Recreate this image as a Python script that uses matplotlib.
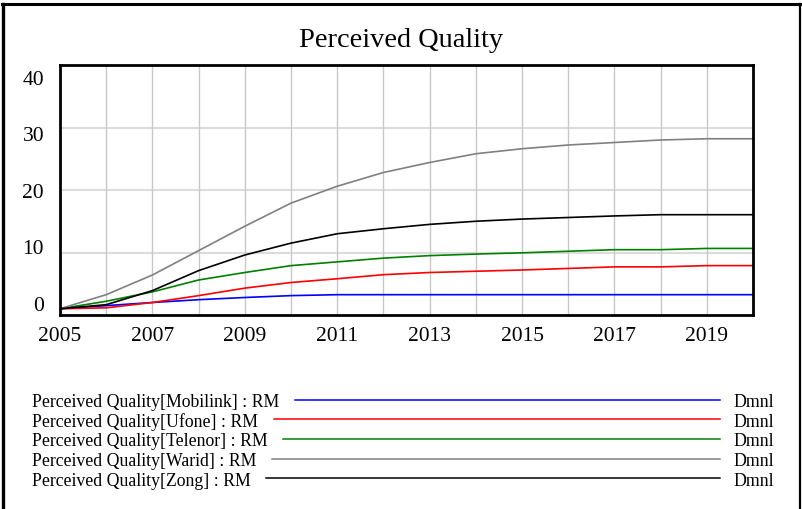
import matplotlib
matplotlib.use("Agg")
import matplotlib.pyplot as plt
from matplotlib.lines import Line2D

plt.rcParams['font.family'] = ['Liberation Serif', 'DejaVu Serif']

years = list(range(2005, 2021))
mobilink = [1.0, 1.5, 2.0, 2.45, 2.8, 3.1, 3.25, 3.25, 3.25, 3.25, 3.25, 3.25, 3.25, 3.25, 3.25, 3.25]
ufone = [1.0, 1.15, 2.0, 3.1, 4.3, 5.2, 5.8, 6.45, 6.8, 7.0, 7.2, 7.45, 7.7, 7.7, 7.9, 7.9]
telenor = [1.0, 2.2, 3.7, 5.6, 6.8, 7.9, 8.5, 9.1, 9.5, 9.75, 9.95, 10.2, 10.45, 10.45, 10.65, 10.65]
warid = [1.0, 3.25, 6.4, 10.3, 14.2, 17.9, 20.6, 22.8, 24.4, 25.8, 26.6, 27.2, 27.6, 28.0, 28.2, 28.2]
zong = [1.0, 1.65, 3.9, 7.1, 9.6, 11.5, 13.0, 13.8, 14.5, 15.0, 15.35, 15.6, 15.85, 16.05, 16.05, 16.05]

series_names = ["Mobilink", "Ufone", "Telenor", "Warid", "Zong"]
series_values = [mobilink, ufone, telenor, warid, zong]
series_colors = ["#0000ff", "#ff0000", "#008000", "#808080", "#000000"]

y_ticks = [0, 10, 20, 30, 40]
x_label_years = [2005, 2007, 2009, 2011, 2013, 2015, 2017, 2019]
title = "Perceived Quality"
unit = "Dmnl"

W, H = 802, 510
fig = plt.figure(figsize=(W / 100, H / 100), dpi=100)

# outer border (left, top, right)
fig.add_artist(Line2D([3.3 / W, 3.3 / W], [0, 1 - 4.7 / H], transform=fig.transFigure, color='black', lw=2.4))
fig.add_artist(Line2D([2 / W, 801 / W], [1 - 4.7 / H, 1 - 4.7 / H], transform=fig.transFigure, color='black', lw=2.2))
fig.add_artist(Line2D([800 / W, 800 / W], [0, 1 - 4.7 / H], transform=fig.transFigure, color='black', lw=1.6))

ax = fig.add_axes([60 / W, 1 - 316 / H, (753 - 60) / W, (316 - 66) / H])
ax.set_xlim(years[0], years[-1])
ax.set_ylim(y_ticks[0], y_ticks[-1])

for v in y_ticks[1:-1]:
    ax.axhline(v, color='#dcdcdc', lw=1.5, zorder=1)
for yr in years[1:-1]:
    ax.axvline(yr, color='#c8c8c8', lw=1.0, zorder=1)

for vals, col in zip(series_values, series_colors):
    ax.plot(years, vals, color=col, lw=1.2, zorder=3)

for s in ax.spines.values():
    s.set_linewidth(2.0)
    s.set_color('black')
    s.set_zorder(5)

ax.set_yticks([])
ax.set_xticks(x_label_years)
ax.set_xticklabels([str(y) for y in x_label_years], fontsize=15.5)
ax.tick_params(axis='x', length=0, pad=8)

# y labels (Vensim-style spacing)
for i, v in enumerate(y_ticks):
    frac = 0.02 + i * 0.226
    ax.text(-16 / (753 - 60), frac, str(v), transform=ax.transAxes, ha='right', va='baseline', fontsize=15.5)

fig.text(0.5, 1 - 46.7 / H, title, ha='center', va='baseline', fontsize=20.4)

# legend
fig.canvas.draw()
renderer = fig.canvas.get_renderer()
line_ys = [400.7, 420.3, 440.0, 459.7, 479.3]
for name, col, ly in zip(series_names, series_colors, line_ys):
    t = fig.text(32.5 / W, 1 - (ly + 6.5) / H, f"Perceived Quality[{name}] : RM", ha='left', va='baseline', fontsize=12.8)
    bb = t.get_window_extent(renderer)
    x0 = bb.x1 + 15
    fig.add_artist(Line2D([x0 / W, 720 / W], [1 - ly / H, 1 - ly / H], transform=fig.transFigure, color=col, lw=1.1))
    fig.text(733 / W, 1 - (ly + 6.5) / H, unit, ha='left', va='baseline', fontsize=12.8)

fig.savefig("out.png", dpi=100)
